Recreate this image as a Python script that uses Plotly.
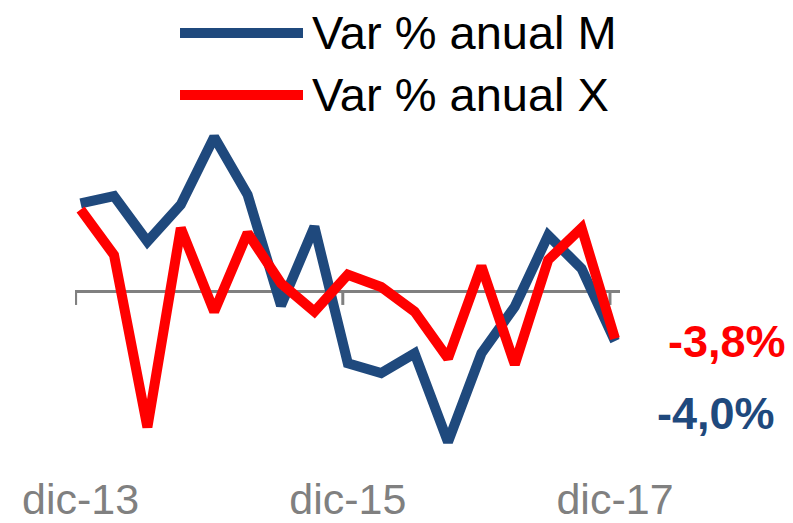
import plotly.graph_objects as go

# Quarterly periods, dic-13 .. dic-17
periods = ["dic-13", "mar-14", "jun-14", "sep-14", "dic-14", "mar-15", "jun-15", "sep-15",
           "dic-15", "mar-16", "jun-16", "sep-16", "dic-16", "mar-17", "jun-17", "sep-17", "dic-17"]
tick_labels = ["dic-13", "dic-15", "dic-17"]

# Annual % change: imports (M) and exports (X)
var_m = [7.2, 7.8, 4.1, 7.1, 12.6, 7.9, -1.1, 5.3, -5.8, -6.6, -5.0, -12.2, -5.0, -1.2, 4.6, 1.9, -4.0]
var_x = [6.7, 3.0, -11.0, 5.2, -1.6, 4.8, 0.7, -1.6, 1.4, 0.4, -1.6, -5.4, 2.1, -5.9, 2.6, 5.2, -3.8]

series_names = ["Var % anual M", "Var % anual X"]
BLUE = "#1F497D"
RED = "#FF0000"
GREY = "#808080"
FONT = "Arial, Liberation Sans, sans-serif"

W, H = 793, 523
L, R, T, B = 75, 173, 120, 58
plot_w = W - L - R
plot_h = H - T - B

idx = list(range(len(periods)))
tick_idx = [periods.index(t) for t in tick_labels]


def px_x(p):
    return (p - L) / plot_w


def px_y(p):
    return (H - B - p) / plot_h


def pct(v):
    return f"{v:.1f}%".replace(".", ",")


fig = go.Figure()
fig.add_trace(go.Scatter(x=idx, y=var_m, mode="lines", name=series_names[0],
                         line=dict(color=BLUE, width=10), showlegend=False))
fig.add_trace(go.Scatter(x=idx, y=var_x, mode="lines", name=series_names[1],
                         line=dict(color=RED, width=10), showlegend=False))

# small tick marks hanging below the zero line
for ti in tick_idx:
    fig.add_shape(type="line", xref="x", yref="y", x0=ti - 0.15, x1=ti - 0.15,
                  ysizemode="pixel", yanchor=0, y0=0, y1=-13,
                  line=dict(color=GREY, width=3), layer="below")

# hand-drawn legend with long line samples
for k, (name, col) in enumerate(zip(series_names, [BLUE, RED])):
    ly = 33 + 62 * k
    fig.add_shape(type="line", xref="paper", yref="paper",
                  x0=px_x(180), x1=px_x(303), y0=px_y(ly), y1=px_y(ly),
                  line=dict(color=col, width=10))
    fig.add_annotation(xref="paper", yref="paper", x=px_x(310), y=px_y(ly),
                       text=name, showarrow=False, xanchor="left", yanchor="middle",
                       font=dict(family=FONT, size=47, color="black"))

# end-of-series value labels
fig.add_annotation(x=idx[-1], y=var_x[-1], text=pct(var_x[-1]), showarrow=False,
                   xshift=112, yshift=-3, xanchor="center", yanchor="middle",
                   font=dict(family=FONT, size=45, color=RED, weight="bold"))
fig.add_annotation(x=idx[-1], y=var_m[-1], text=pct(var_m[-1]), showarrow=False,
                   xshift=101, yshift=-72, xanchor="center", yanchor="middle",
                   font=dict(family=FONT, size=45, color=BLUE, weight="bold"))

fig.update_layout(
    template="none",
    width=W, height=H,
    margin=dict(l=L, r=R, t=T, b=B, pad=0, autoexpand=False),
    paper_bgcolor="white", plot_bgcolor="white",
    showlegend=False,
    font=dict(family=FONT),
    xaxis=dict(range=[-0.168, 16.15], showgrid=False, zeroline=False, showline=False,
               automargin=False,
               tickmode="array", tickvals=tick_idx, ticktext=tick_labels, ticks="",
               tickfont=dict(family=FONT, size=43, color=GREY), ticklabelstandoff=5),
    yaxis=dict(range=[-14.07, 13.98], showgrid=False, showticklabels=False, ticks="",
               automargin=False,
               showline=False, zeroline=True, zerolinecolor=GREY, zerolinewidth=3),
)

fig.write_html("out.html")
